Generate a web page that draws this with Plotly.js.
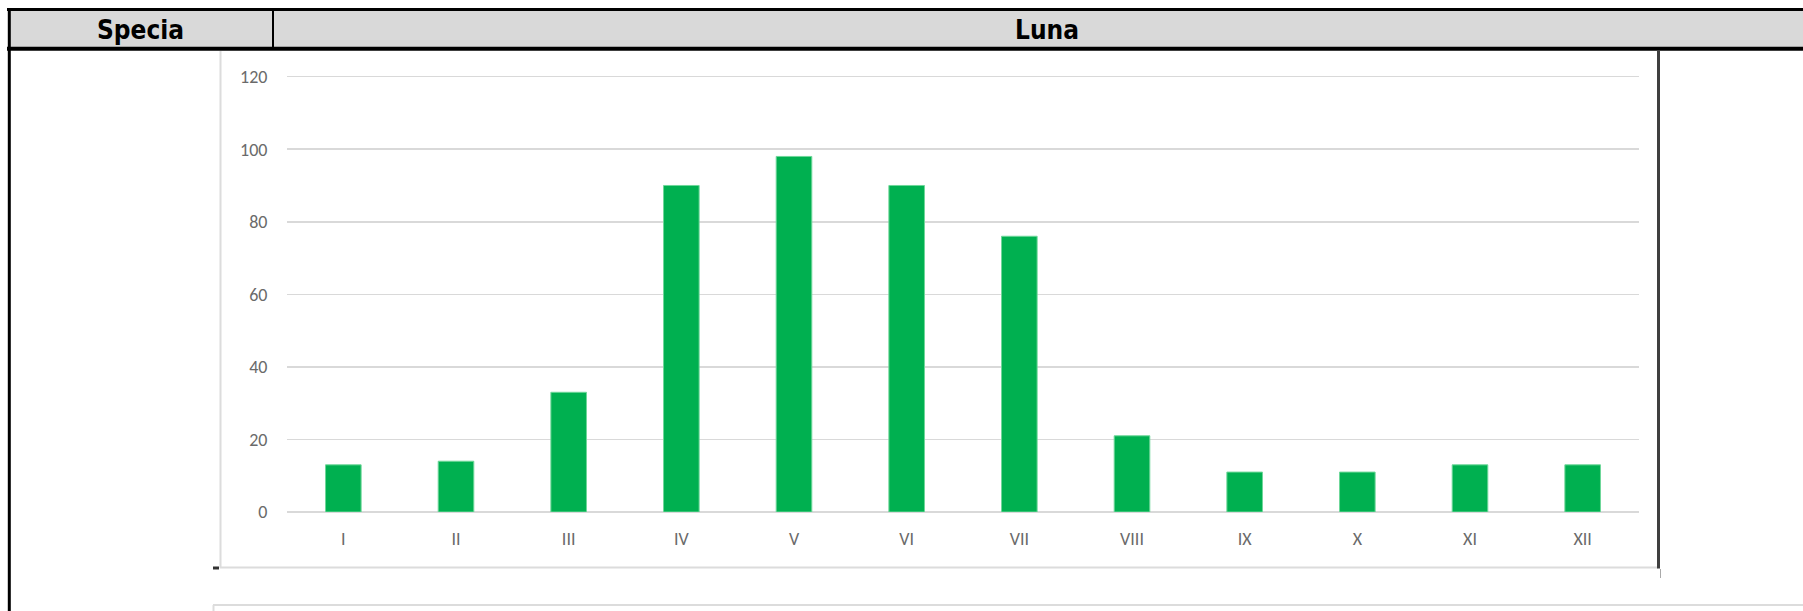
<!DOCTYPE html>
<html>
<head>
<meta charset="utf-8">
<script src="https://cdn.plot.ly/plotly-3.0.1.min.js"></script>
<style>
  html, body { margin: 0; padding: 0; background: #ffffff; }
  #chart { width: 1803px; height: 611px; }
</style>
</head>
<body>
<div id="chart"></div>
<script>
// ---- data ----
const categories = ['I', 'II', 'III', 'IV', 'V', 'VI', 'VII', 'VIII', 'IX', 'X', 'XI', 'XII'];
const values = [13, 14, 33, 90, 98, 90, 76, 21, 11, 11, 13, 13];
const yTicks = [0, 20, 40, 60, 80, 100, 120];
const headerLabels = ['Specia', 'Luna'];

// ---- geometry (pixels) ----
const W = 1803, H = 611;
const M = { l: 287, r: 164, t: 73, b: 99 };
const PW = W - M.l - M.r, PH = H - M.t - M.b;
const px = x => (x - M.l) / PW;
const py = y => 1 - (y - M.t) / PH;

function hline(x0, x1, y, color, width) {
  return { type: 'line', xref: 'paper', yref: 'paper', x0: px(x0), x1: px(x1), y0: py(y), y1: py(y),
           line: { color: color, width: width }, layer: 'above' };
}
function vline(x, y0, y1, color, width) {
  return { type: 'line', xref: 'paper', yref: 'paper', x0: px(x), x1: px(x), y0: py(y0), y1: py(y1),
           line: { color: color, width: width }, layer: 'above' };
}

const shapes = [
  // header band
  { type: 'rect', xref: 'paper', yref: 'paper', x0: px(8), x1: px(1810), y0: py(11), y1: py(47),
    fillcolor: '#d9d9d9', line: { width: 0 }, layer: 'above' },
  hline(7, 1810, 9.5, '#000000', 3),
  hline(7, 1810, 48.8, '#000000', 4),
  vline(273, 9, 48, '#000000', 2),
  vline(9.3, 8, 620, '#000000', 3),
  // chart frame
  vline(220.5, 51, 568, '#dcdcdc', 2),
  hline(220, 1658, 567.5, '#dcdcdc', 2),
  hline(213, 219, 568, '#333333', 3),
  vline(1658.5, 51, 568.5, '#3f3f3f', 3),
  vline(1660.5, 569, 578, '#aaaaaa', 1),
  // lower box
  hline(213, 1810, 605, '#dcdcdc', 2),
  vline(213.5, 605, 620, '#dcdcdc', 2)
];

const headFont = { family: '"Liberation Sans Narrow", "Arial Narrow", "DejaVu Sans Condensed", "Liberation Sans", Arial, sans-serif',
                   size: 26, color: '#000000', weight: 700, stretch: 'condensed' };
const annotations = [
  { xref: 'paper', yref: 'paper', x: px(140.5), y: py(29.5), text: headerLabels[0], showarrow: false,
    xanchor: 'center', yanchor: 'middle', font: headFont },
  { xref: 'paper', yref: 'paper', x: px(1046.7), y: py(29.5), text: headerLabels[1], showarrow: false,
    xanchor: 'center', yanchor: 'middle', font: headFont }
];

const tickFont = { family: 'Carlito, "Liberation Sans", Arial, sans-serif', size: 18, color: '#6a6a6a' };

const trace = {
  type: 'bar',
  x: categories,
  y: values,
  marker: { color: '#00B050', line: { color: '#6fd79a', width: 1 } },
  hoverinfo: 'x+y'
};

const layout = {
  width: W, height: H,
  margin: M,
  paper_bgcolor: '#ffffff',
  plot_bgcolor: '#ffffff',
  showlegend: false,
  bargap: 0.684,
  xaxis: {
    type: 'category',
    showgrid: false, zeroline: false, showline: false,
    ticks: 'outside', ticklen: 10, tickcolor: 'rgba(0,0,0,0)',
    tickfont: tickFont,
    fixedrange: true
  },
  yaxis: {
    range: [0, 121],
    tickvals: yTicks,
    ticktext: yTicks.map(String),
    showgrid: true, gridcolor: '#d9d9d9', gridwidth: 1.5,
    zeroline: true, zerolinecolor: '#d9d9d9', zerolinewidth: 1.5,
    showline: false,
    ticks: 'outside', ticklen: 15, tickcolor: 'rgba(0,0,0,0)',
    tickfont: tickFont,
    fixedrange: true
  },
  shapes: shapes,
  annotations: annotations
};

Plotly.newPlot('chart', [trace], layout, { displayModeBar: false, staticPlot: true });
</script>
</body>
</html>
